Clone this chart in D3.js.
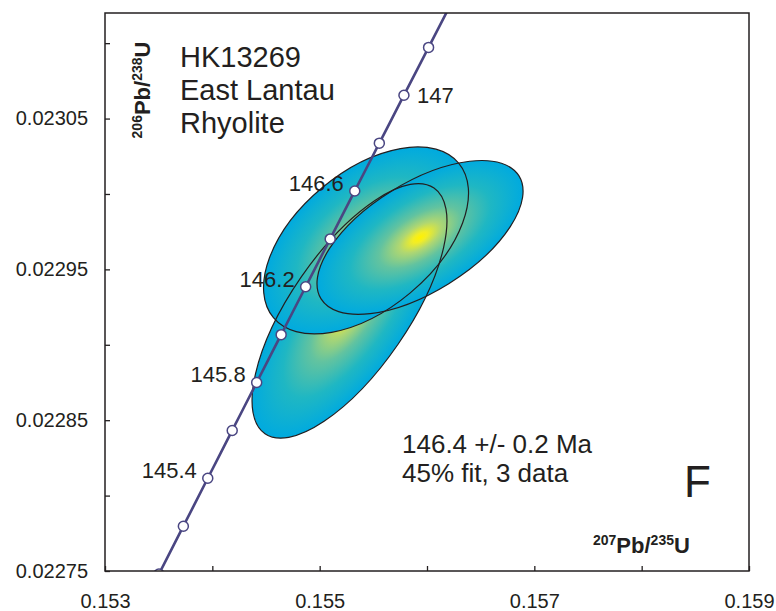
<!DOCTYPE html>
<html>
<head>
<meta charset="utf-8">
<script src="https://cdn.jsdelivr.net/npm/d3@7"></script>
<style>
    body { margin: 0; background: #ffffff; }
    svg text { font-family: "Liberation Sans", Arial, Helvetica, sans-serif; fill: #231f20; }
</style>
</head>
<body>
<svg id="concordiaSVG" width="776" height="611"></svg>
<script>
//concordia points: age (Ma), 207Pb/235U, 206Pb/238U
let concAge = [145.0, 145.2, 145.4, 145.6, 145.8, 146.0, 146.2, 146.4, 146.6, 146.8, 147.0, 147.2, 147.4];
let concX = [0.1535028, 0.1537300, 0.1539575, 0.1541852, 0.1544131, 0.1546412, 0.1548695,
    0.1550981, 0.1553269, 0.1555559, 0.1557852, 0.1560147, 0.1562444];
let concY = [0.0227480, 0.0227797, 0.0228115, 0.0228432, 0.0228750, 0.0229067, 0.0229385,
    0.0229702, 0.0230020, 0.0230337, 0.0230655, 0.0230972, 0.0231290];
let concLabels = [145.4, 145.8, 146.2, 146.6, 147.0];

//error ellipses (drawing order): centre, 2 sigma half widths, correlation
let ellX = [0.155278, 0.155432, 0.155935];
let ellY = [0.0229225, 0.0229692, 0.0229712];
let ellSX = [0.000908, 0.000955, 0.000960];
let ellSY = [0.0000844, 0.0000620, 0.0000510];
let ellRho = [0.706, 0.505, 0.60];

//axes
let xTicks = [0.153, 0.154, 0.155, 0.156, 0.157, 0.158, 0.159];
let xLabels = [0.153, 0.155, 0.157, 0.159];
let yTicks = [0.02275, 0.0228, 0.02285, 0.0229, 0.02295, 0.023, 0.02305, 0.0231];
let yLabels = [0.02275, 0.02285, 0.02295, 0.02305];

let sampleText = ["HK13269", "East Lantau", "Rhyolite"];
let ageText = ["146.4 +/- 0.2 Ma", "45% fit, 3 data"];
let panelLetter = "F";

function drawConcordia() {

    let plot = {left: 105, right: 749, top: 13, bottom: 571};
    let ink = "#231f20";
    let curveColor = "#4a4682";

    let svg = d3.select("#concordiaSVG");

    let x = d3.scaleLinear().domain([0.153, 0.159]).range([plot.left, plot.right]);
    let y = d3.scaleLinear().domain([0.02275, 0.02312]).range([plot.bottom, plot.top]);

    let isLabel = (list, v) => list.some(l => Math.abs(l - v) < 1e-9);

    let defs = svg.append("defs");

    defs.append("clipPath")
        .attr("id", "plotClip")
        .append("rect")
        .attr("x", plot.left)
        .attr("y", plot.top)
        .attr("width", plot.right - plot.left)
        .attr("height", plot.bottom - plot.top);

    let grad = defs.append("radialGradient")
        .attr("id", "ellGrad")
        .attr("cx", "50%").attr("cy", "50%").attr("r", "50%");

    grad.selectAll("stop")
        .data([
            [0, "#fff200"], [0.07, "#f2ed26"], [0.2, "#b0d771"],
            [0.4, "#62c3a0"], [0.68, "#1fb7c3"], [1, "#00aadf"]
        ])
        .enter()
        .append("stop")
        .attr("offset", d => d[0])
        .attr("stop-color", d => d[1]);

    //ellipse geometry in pixels
    let kx = Math.abs(x(0.154) - x(0.153)) / 0.001;
    let ky = Math.abs(y(0.0228) - y(0.02275)) / 0.00005;

    let ellipses = ellX.map(function(d, i) {
        let sx = ellSX[i] * kx;
        let sy = ellSY[i] * ky;
        let a = sx * sx, b = sy * sy;
        let c = -ellRho[i] * sx * sy; // y axis flipped on screen
        let half = Math.sqrt(((a - b) / 2) * ((a - b) / 2) + c * c);
        return {
            cx: x(ellX[i]),
            cy: y(ellY[i]),
            rx: Math.sqrt((a + b) / 2 + half),
            ry: Math.sqrt((a + b) / 2 - half),
            angle: 0.5 * Math.atan2(2 * c, a - b) * 180 / Math.PI
        };
    });

    let ellG = svg.append("g").attr("clip-path", "url(#plotClip)");

    ellG.selectAll("ellipse.fill")
        .data(ellipses)
        .enter()
        .append("ellipse")
        .attr("class", "fill")
        .attr("cx", d => d.cx)
        .attr("cy", d => d.cy)
        .attr("rx", d => d.rx)
        .attr("ry", d => d.ry)
        .attr("transform", d => "rotate(" + d.angle + "," + d.cx + "," + d.cy + ")")
        .style("fill", "url(#ellGrad)");

    ellG.selectAll("ellipse.edge")
        .data(ellipses)
        .enter()
        .append("ellipse")
        .attr("class", "edge")
        .attr("cx", d => d.cx)
        .attr("cy", d => d.cy)
        .attr("rx", d => d.rx)
        .attr("ry", d => d.ry)
        .attr("transform", d => "rotate(" + d.angle + "," + d.cx + "," + d.cy + ")")
        .style("fill", "none")
        .style("stroke", ink)
        .style("stroke-width", 1.2);

    //concordia curve
    let concG = svg.append("g").attr("clip-path", "url(#plotClip)");

    let line = d3.line()
        .x(d => x(concX[d]))
        .y(d => y(concY[d]))
        .curve(d3.curveMonotoneX);

    concG.append("path")
        .datum(d3.range(concAge.length))
        .attr("d", line)
        .style("fill", "none")
        .style("stroke", curveColor)
        .style("stroke-width", 2.6);

    concG.selectAll("circle")
        .data(d3.range(concAge.length))
        .enter()
        .append("circle")
        .attr("cx", d => x(concX[d]))
        .attr("cy", d => y(concY[d]))
        .attr("r", 5)
        .style("fill", "#ffffff")
        .style("stroke", curveColor)
        .style("stroke-width", 1.5);

    svg.append("g")
        .selectAll("text")
        .data(concLabels)
        .enter()
        .append("text")
        .attr("x", d => x(concX[concAge.indexOf(d)]))
        .attr("y", d => y(concY[concAge.indexOf(d)]))
        .attr("dx", d => d === 147.0 ? 13 : -11)
        .attr("dy", d => d === 147.0 ? 8 : 0)
        .style("text-anchor", d => d === 147.0 ? "start" : "end")
        .style("font-size", "22px")
        .text(d => d === 147.0 ? "147" : d.toFixed(1));

    //frame
    svg.append("rect")
        .attr("x", plot.left)
        .attr("y", plot.top)
        .attr("width", plot.right - plot.left)
        .attr("height", plot.bottom - plot.top)
        .style("fill", "none")
        .style("stroke", ink)
        .style("stroke-width", 1.5);

    //axes with inward ticks
    let xAxis = d3.axisBottom(x)
        .tickValues(xTicks)
        .tickSize(-5)
        .tickPadding(23)
        .tickFormat(d => isLabel(xLabels, d) ? d3.format(".3f")(d) : "");

    let yAxis = d3.axisLeft(y)
        .tickValues(yTicks)
        .tickSize(-5)
        .tickPadding(17)
        .tickFormat(d => isLabel(yLabels, d) ? d3.format(".5f")(d) : "");

    let gx = svg.append("g")
        .attr("transform", "translate(0," + plot.bottom + ")")
        .call(xAxis);

    let gy = svg.append("g")
        .attr("transform", "translate(" + plot.left + ",0)")
        .call(yAxis);

    [gx, gy].forEach(function(g) {
        g.select(".domain").remove();
        g.selectAll(".tick line").style("stroke", ink).style("stroke-width", 1.3);
        g.selectAll(".tick text")
            .style("font-size", "20px")
            .style("font-family", "'Liberation Sans', Arial, sans-serif")
            .style("fill", ink);
    });

    //axis titles with superscripts
    function ratioLabel(sel, top, bottom) {
        sel.append("tspan").style("font-size", "14px").attr("dy", -8).text(top);
        sel.append("tspan").style("font-size", "22px").attr("dy", 8).text("Pb/");
        sel.append("tspan").style("font-size", "14px").attr("dy", -8).text(bottom);
        sel.append("tspan").style("font-size", "22px").attr("dy", 8).text("U");
    }

    svg.append("text")
        .attr("x", 593)
        .attr("y", 553)
        .style("font-weight", "bold")
        .call(ratioLabel, "207", "235");

    svg.append("text")
        .attr("transform", "translate(150,90) rotate(-90)")
        .style("font-weight", "bold")
        .style("text-anchor", "middle")
        .call(ratioLabel, "206", "238");

    //sample name
    svg.append("g")
        .selectAll("text")
        .data(sampleText)
        .enter()
        .append("text")
        .attr("x", 180)
        .attr("y", (d, i) => 67 + i * 33)
        .style("font-size", "29px")
        .text(d => d);

    //age result
    svg.append("g")
        .selectAll("text")
        .data(ageText)
        .enter()
        .append("text")
        .attr("x", 402)
        .attr("y", (d, i) => 453 + i * 29)
        .style("font-size", "26px")
        .text(d => d);

    svg.append("text")
        .attr("x", 684)
        .attr("y", 497)
        .style("font-size", "44px")
        .text(panelLetter);
}

drawConcordia();
</script>
</body>
</html>
